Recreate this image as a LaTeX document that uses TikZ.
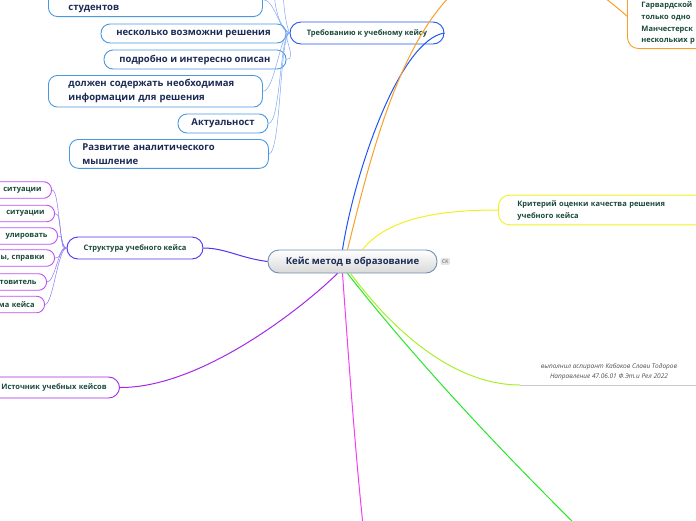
\documentclass[tikz,border=0pt]{standalone}
\usepackage{fontspec}
\setmainfont{Open Sans}
\usetikzlibrary{positioning}
\definecolor{tealtxt}{HTML}{1A4A3C}
\definecolor{navytxt}{HTML}{1C2B55}
\definecolor{leafblue}{HTML}{4A98E0}
\definecolor{linkblue}{HTML}{7FA8F2}
\definecolor{trebblue}{HTML}{1F55F0}
\definecolor{structviolet}{HTML}{5530F0}
\definecolor{leafpurple}{HTML}{C050F2}
\definecolor{linkviolet}{HTML}{8C78F0}
\definecolor{istpurple}{HTML}{A428E8}
\definecolor{crityellow}{HTML}{F0F020}
\definecolor{orangeln}{HTML}{F8A028}
\definecolor{magentaln}{HTML}{F040F0}
\definecolor{greenln}{HTML}{28E628}
\definecolor{limeln}{HTML}{A8F028}
\definecolor{centerborder}{HTML}{6F8FAF}

\begin{document}
\begin{tikzpicture}[x=1pt,y=-1pt,
		leaf/.style={draw=leafblue,line width=0.9pt,rounded corners=9pt,fill=white,text=navytxt,font=\bfseries\fontsize{9.5}{14}\selectfont},
		subleaf/.style={draw=leafpurple,line width=0.9pt,rounded corners=8pt,fill=white,text=tealtxt,font=\bfseries\fontsize{7.5}{10}\selectfont,anchor=east,text width=90pt,align=right,inner xsep=10pt,inner ysep=0pt,minimum height=16.5pt},
		topic/.style={line width=0.9pt,rounded corners=11pt,fill=white,text=tealtxt,font=\bfseries\fontsize{7.5}{12}\selectfont},
		link/.style={line width=0.5pt},
		branch/.style={line width=1pt}]
			\useasboundingbox (0,0) rectangle (696,520);
			\node[draw=centerborder,line width=0.9pt,rounded corners=11pt,top color=white,bottom color=gray!30,text=navytxt,font=\bfseries\fontsize{9.5}{12}\selectfont,minimum width=169pt,minimum height=23pt,inner sep=0pt] (main) at (352.5,261.5) {Кейс метод в образование};
			\node[fill=gray!20,rounded corners=1pt,text=gray!70!black,font=\fontsize{5}{6}\selectfont,inner sep=1.5pt,right=3pt of main] (ck) {CK};
			\node[topic,draw=trebblue,minimum width=154pt,minimum height=22pt,inner sep=0pt] (treb) at (367,33) {Требованию к учебному кейсу};
			\node[leaf,anchor=south west,text width=174pt,inner xsep=20pt,align=left,inner ysep=4pt] (stud) at (48,17) {\strut\\студентов};
			\node[leaf,minimum width=185pt,minimum height=19pt,inner sep=0pt] (vozm) at (193.5,33.5) {несколько возможни решения};
			\node[leaf,minimum width=182pt,minimum height=19pt,inner sep=0pt] (opis) at (195,59.5) {подробно и интересно описан};
			\node[leaf,anchor=north west,text width=174pt,inner xsep=20pt,align=left,inner ysep=4pt] (info) at (48,75) {должен содержать необходимая\\информации для решения};
			\node[leaf,minimum width=90pt,minimum height=19pt,inner sep=0pt] (aktu) at (223,123.5) {Актуальност};
			\node[leaf,anchor=north west,text width=173pt,inner xsep=13pt,align=left,inner ysep=4pt] (razv) at (69,139) {Развитие аналитического\\мышление};
			\node[topic,draw=orangeln,anchor=south west,text width=80pt,align=left,inner xsep=14pt,inner ysep=4pt,font=\bfseries\fontsize{7.5}{11.7}\selectfont] (garv) at (627,49) {\strut\\Гарвардской\\только одно\\Манчестерск\\нескольких р};
			\node[topic,draw=crityellow,anchor=west,text width=190pt,align=left,inner xsep=19pt,inner ysep=5pt] (krit) at (498,210) {Критерий оценки качества решения\\учебного кейса};
			\node[topic,draw=structviolet,minimum width=136pt,minimum height=22pt,inner sep=0pt] (struct) at (135,248) {Структура учебного кейса};
			\node[subleaf] (s1) at (52,190) {ситуации};
			\node[subleaf] (s2) at (55,213.5) {ситуации};
			\node[subleaf] (s3) at (58,236) {улировать};
			\node[subleaf] (s4) at (55,258) {ы, справки};
			\node[subleaf] (s5) at (47,282) {товитель};
			\node[subleaf] (s6) at (45,304.5) {ма кейса};
			\node[topic,draw=istpurple,anchor=east,text width=140pt,align=right,inner xsep=13pt,inner ysep=0pt,minimum height=21pt] (ist) at (120,387.5) {Источник учебных кейсов};
			\node[text=gray!60!black,font=\itshape\fontsize{6.5}{9.5}\selectfont,align=center] (avtor) at (609,372) {выполнил аспирант Кабаков Слави Тодоров\\Направление 47.06.01 Ф.Эт.и Рел 2022};
			\coordinate (lineA) at (520,385);
			\coordinate (lineB) at (700,385);
			\coordinate (tp1) at (283,-8);
			\coordinate (tp2) at (274,-8);
			\coordinate (mag) at (363,525);
			\coordinate (grn) at (576,525);
			\draw[gray!40,line width=0.8pt] (lineA) -- (lineB);
			\foreach \k in {stud,vozm,opis,info,aktu,razv}
				\draw[link,linkblue] (\k.east) .. controls +(12,0) and (280,33) .. (treb.west);
			\draw[link,linkblue] (treb.west) .. controls (286,25) and (284,10) .. (tp1);
			\draw[link,linkblue] (treb.west) .. controls (280,28) and (275,10) .. (tp2);
			\foreach \k in {s1,s2,s3,s4,s5,s6}
				\draw[link,linkviolet] (\k.east) .. controls +(8,0) and (58,248) .. (struct.west);
			\draw[branch,trebblue] ([xshift=-10pt]main.north) .. controls (355,170) and (400,40) .. (treb.east);
			\draw[branch,orangeln] ([xshift=-5pt]main.north) .. controls (380,120) and (440,-150) .. (garv.west);
			\draw[branch,crityellow] ([xshift=10pt]main.north) .. controls (390,215) and (450,210) .. (krit.west);
			\draw[branch,structviolet] (main.west) .. controls (240,258) and (225,248) .. (struct.east);
			\draw[branch,istpurple] ([xshift=-15pt]main.south) .. controls (300,310) and (200,388) .. (ist.east);
			\draw[branch,magentaln] ([xshift=-10pt]main.south) .. controls (348,350) and (355,450) .. (mag);
			\draw[branch,greenln] ([xshift=-5pt]main.south) .. controls (400,340) and (470,420) .. (grn);
			\draw[branch,limeln] ([xshift=-2pt]main.south) .. controls (400,340) and (460,385) .. (lineA);
		\end{tikzpicture}
\end{document}
